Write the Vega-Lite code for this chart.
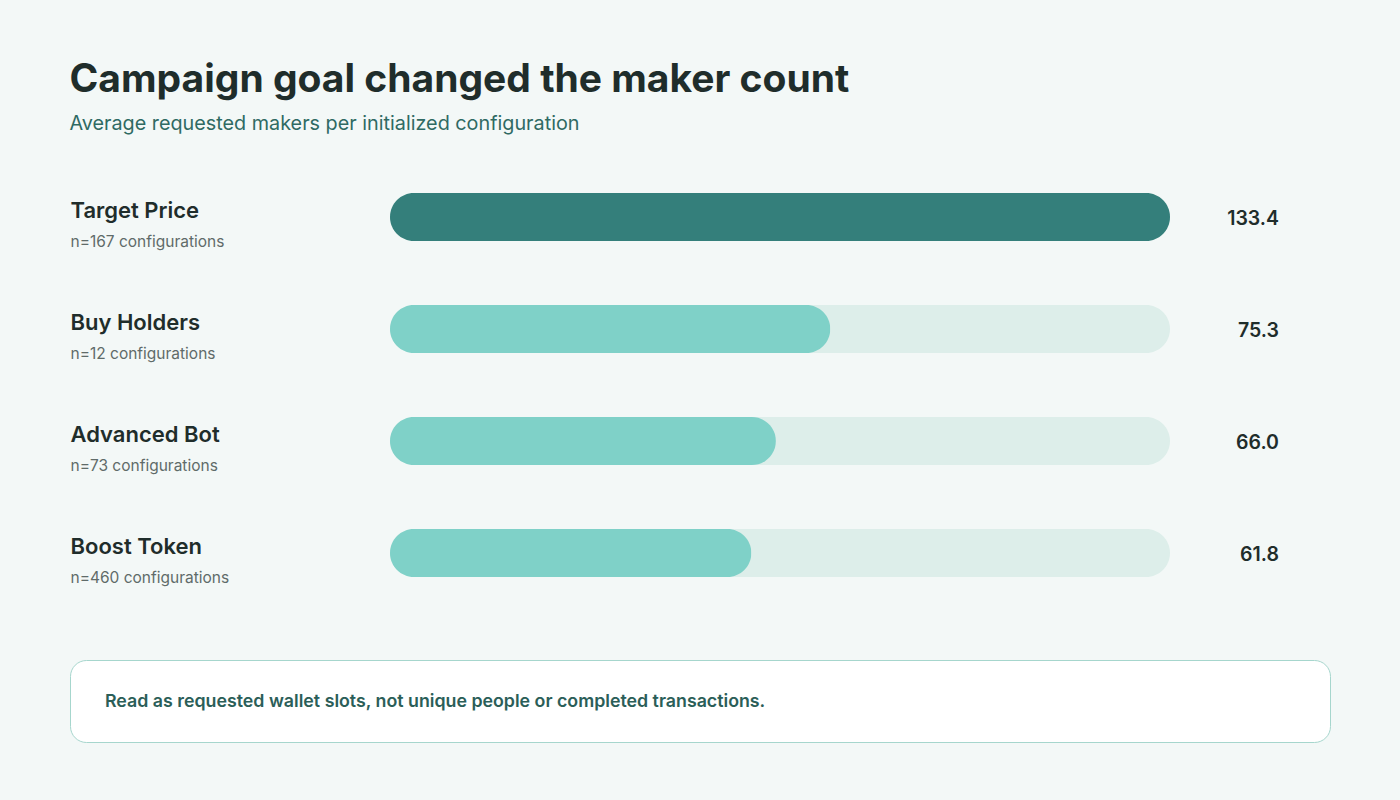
{
  "$schema": "https://vega.github.io/schema/vega-lite/v6.json",
  "background": "#f3f8f7",
  "padding": {"left": 69, "top": 61, "right": 70, "bottom": 58},
  "spacing": 50,
  "title": {
    "text": "Campaign goal changed the maker count",
    "subtitle": "Average requested makers per initialized configuration",
    "anchor": "start",
    "font": "Inter",
    "fontSize": 39,
    "fontWeight": 700,
    "color": "#1f2d2b",
    "subtitleFont": "Inter",
    "subtitleFontSize": 19.8,
    "subtitleFontWeight": 400,
    "subtitleColor": "#2f6a63",
    "subtitlePadding": 14,
    "offset": 27
  },
  "datasets": {
    "goals": [
      {"category": "Target Price", "nlabel": "n=167 configurations", "value": 133.4, "vlabel": "133.4"},
      {"category": "Buy Holders", "nlabel": "n=12 configurations", "value": 75.3, "vlabel": "75.3"},
      {"category": "Advanced Bot", "nlabel": "n=73 configurations", "value": 66.0, "vlabel": "66.0"},
      {"category": "Boost Token", "nlabel": "n=460 configurations", "value": 61.8, "vlabel": "61.8"}
    ],
    "note": [
      {"text": "Read as requested wallet slots, not unique people or completed transactions."}
    ]
  },
  "vconcat": [
    {
      "width": 1100,
      "height": 448,
      "data": {"name": "goals"},
      "transform": [
        {"joinaggregate": [{"op": "max", "field": "value", "as": "maxv"}]}
      ],
      "layer": [
        {
          "mark": {"type": "bar", "size": 48, "cornerRadius": 24, "color": "#ddeeea"},
          "encoding": {
            "y": {
              "field": "nlabel", "type": "nominal", "sort": null,
              "scale": {"paddingInner": 0, "paddingOuter": 0},
              "axis": {
                "orient": "left", "title": null, "domain": false, "ticks": false, "tickSize": 0,
                "labelAlign": "left", "labelPadding": 0, "labelBaseline": "middle",
                "labelOffset": 25, "labelFont": "Inter", "labelFontSize": 15.5,
                "labelColor": "#5f6b69", "labelFontWeight": 400, "labelLimit": 300
              }
            },
            "x": {
              "field": "maxv", "type": "quantitative",
              "scale": {"domain": [0, 133.4], "range": [320, 1100], "nice": false, "zero": true},
              "axis": null
            }
          }
        },
        {
          "mark": {"type": "bar", "size": 48, "cornerRadius": 24},
          "encoding": {
            "y": {
              "field": "category", "type": "nominal", "sort": null,
              "scale": {"paddingInner": 0, "paddingOuter": 0},
              "axis": {
                "orient": "left", "title": null, "domain": false, "ticks": false, "tickSize": 0,
                "labelAlign": "left", "labelPadding": 0, "labelBaseline": "middle",
                "labelOffset": -6, "labelFont": "Inter", "labelFontSize": 22,
                "labelColor": "#1f2d2b", "labelFontWeight": 600, "labelLimit": 300
              }
            },
            "x": {"field": "value", "type": "quantitative"},
            "color": {
              "condition": {"test": "datum.value === datum.maxv", "value": "#347f7b"},
              "value": "#7fd1c8"
            }
          }
        },
        {
          "mark": {"type": "text", "align": "right", "baseline": "middle", "dx": 109, "dy": 2, "font": "Inter", "fontSize": 19.5, "fontWeight": 600, "color": "#1f2d2b"},
          "encoding": {
            "y": {"field": "category", "type": "nominal", "sort": null, "axis": null},
            "x": {"field": "maxv", "type": "quantitative"},
            "text": {"field": "vlabel"}
          }
        }
      ],
      "resolve": {"scale": {"y": "independent"}, "axis": {"y": "independent"}}
    },
    {
      "width": 1260,
      "height": 82,
      "data": {"name": "note"},
      "view": {"fill": "#ffffff", "stroke": "#a6d6cd", "strokeWidth": 1, "cornerRadius": 16},
      "title": {
        "text": "Read as requested wallet slots, not unique people or completed transactions.",
        "anchor": "start",
        "orient": "top",
        "frame": "group",
        "baseline": "middle",
        "offset": -60,
        "dx": 35,
        "font": "Inter",
        "fontSize": 17.8,
        "fontWeight": 600,
        "color": "#2b5e58"
      },
      "mark": {"type": "text", "opacity": 0},
      "encoding": {"text": {"field": "text"}}
    }
  ],
  "config": {
    "view": {"stroke": null},
    "font": "Inter"
  }
}
